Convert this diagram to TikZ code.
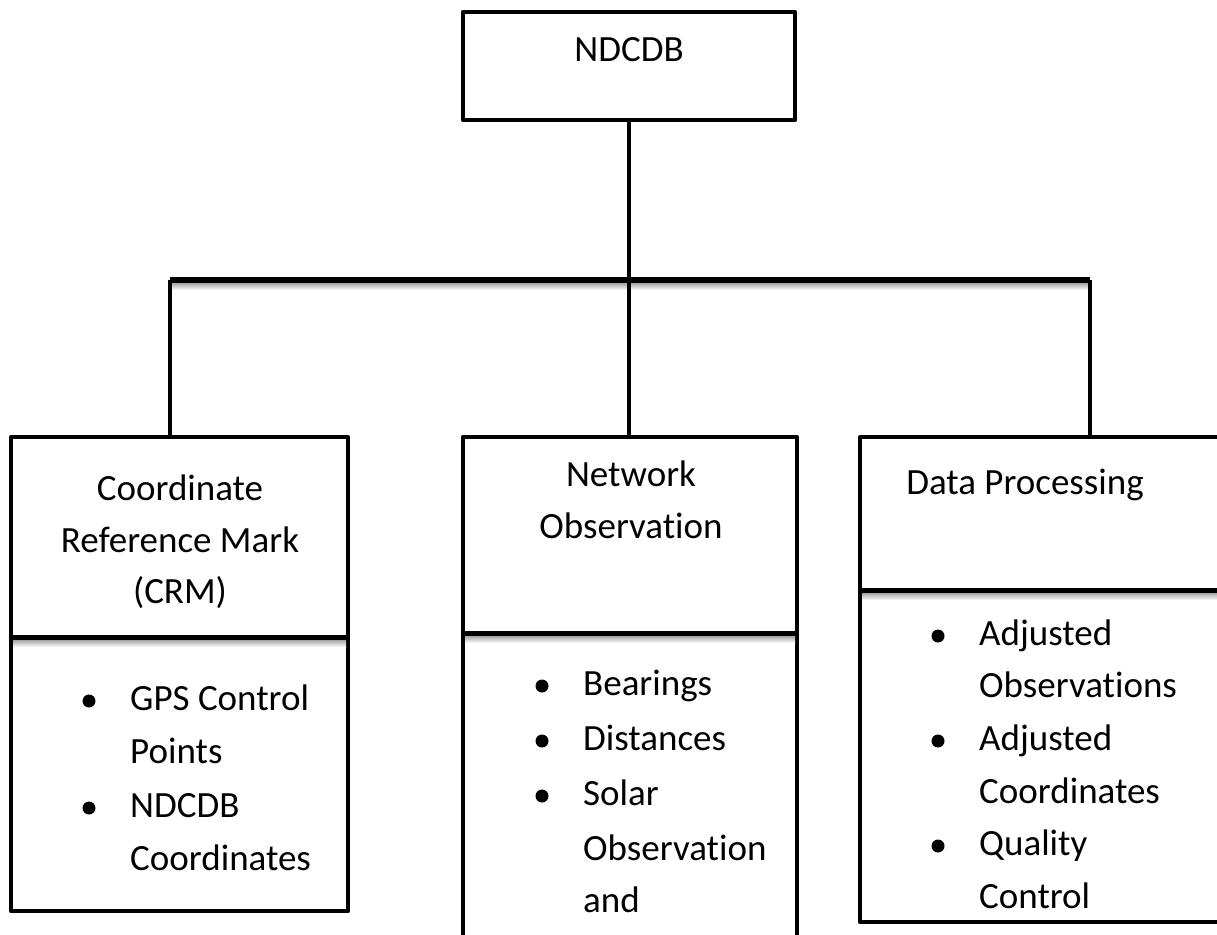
\documentclass[tikz,border=0pt]{standalone}
\usepackage{fontspec}
\setmainfont{Carlito}[Ligatures=NoCommon]
\begin{document}
\begin{tikzpicture}[x=1pt,y=-1pt,
  box/.style={draw, line width=4.5pt, line join=round, rectangle, inner sep=0pt},
  link/.style={line width=4.5pt, line join=round},
  bus/.style={line width=5.5pt, line join=round},
  divider/.style={line width=5pt},
  soft/.style={draw=none, top color=black!35, bottom color=white},
  txt/.style={anchor=base, inner sep=0pt, font=\fontsize{37}{44}\selectfont},
  itm/.style={anchor=base west, inner sep=0pt, font=\fontsize{37}{44}\selectfont},
  dot/.style={circle, fill=black, inner sep=0pt, minimum size=13pt}]
\useasboundingbox (0,0) rectangle (1217,934);
\clip (0,0) rectangle (1217,934);

% boxes
\node[box, minimum width=332pt, minimum height=108pt] (root) at (629,66) {};
\node[box, minimum width=337pt, minimum height=474pt] (crm) at (179.5,674) {};
\node[box, minimum width=334pt, minimum height=523pt] (net) at (630,698.5) {};
\node[box, minimum width=380pt, minimum height=485pt] (dp) at (1050,679.5) {};

% soft shadows under the bus and the dividers
\shade[soft] (168,283) rectangle (1092,290);
\shade[soft] (13,640) rectangle (346,647);
\shade[soft] (465,636) rectangle (795,643);
\shade[soft] (862,593) rectangle (1217,600);

% connectors
\coordinate (busL) at (170,280);
\coordinate (busR) at (1090,280);
\draw[link] (root.south) -- (root.south |- net.north);
\draw[bus] (busL) -- (busR);
\draw[link] (busL) -- (busL |- crm.north);
\draw[link] (busR) -- (busR |- dp.north);

% dividers between heading and contents
\draw[divider] (crm.west |- 0,637) -- (crm.east |- 0,637);
\draw[divider] (net.west |- 0,633) -- (net.east |- 0,633);
\draw[divider] (dp.west |- 0,590) -- (dp.east |- 0,590);

% headings
\node[txt] (tRoot) at (629,62) {NDCDB};
\node[txt] (tCrm1) at (180,500) {Coordinate};
\node[txt] (tCrm2) at (180,552) {Reference Mark};
\node[txt] (tCrm3) at (180,603) {(CRM)};
\node[txt] (tNet1) at (631,486) {Network};
\node[txt] (tNet2) at (631,538) {Observation};
\node[txt] (tDp1) at (1025,494) {Data Processing};

% list: coordinate reference mark
\node[dot] (bC1) at (89,701) {};
\node[itm] (c1) at (130,710) {GPS Control};
\node[itm] (c2) at (130,763) {Points};
\node[dot] (bC2) at (89,808) {};
\node[itm] (c3) at (130,817) {NDCDB};
\node[itm] (c4) at (130,870) {Coordinates};

% list: network observation
\node[dot] (bN1) at (542,686) {};
\node[itm] (n1) at (583,695) {Bearings};
\node[dot] (bN2) at (542,741) {};
\node[itm] (n2) at (583,750) {Distances};
\node[dot] (bN3) at (542,796) {};
\node[itm] (n3) at (583,805) {Solar};
\node[itm] (n4) at (583,860) {Observation};
\node[itm] (n5) at (583,912) {and};

% list: data processing
\node[dot] (bD1) at (938,636) {};
\node[itm] (d1) at (979,645) {Adjusted};
\node[itm] (d2) at (979,697) {Observations};
\node[dot] (bD2) at (938,741) {};
\node[itm] (d3) at (979,750) {Adjusted};
\node[itm] (d4) at (979,803) {Coordinates};
\node[dot] (bD3) at (938,846) {};
\node[itm] (d5) at (979,855) {Quality};
\node[itm] (d6) at (979,908) {Control};
\end{tikzpicture}
\end{document}
